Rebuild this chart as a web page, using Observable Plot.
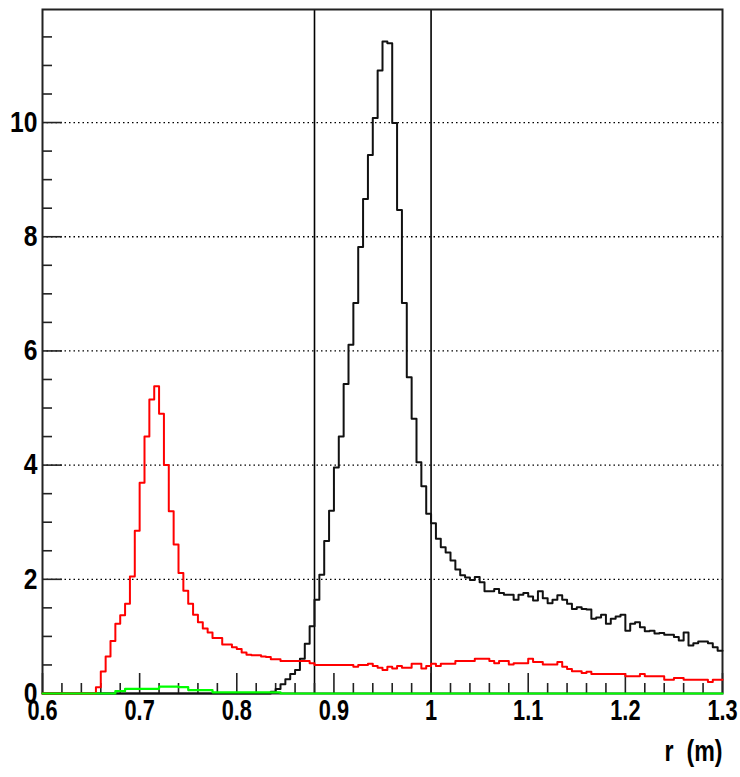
<!DOCTYPE html>
<html>
<head>
<meta charset="utf-8">
<script src="https://cdn.jsdelivr.net/npm/d3@7"></script>
<script src="https://cdn.jsdelivr.net/npm/@observablehq/plot@0.6"></script>
<style>
  body { margin: 0; background: #fff; }
  #chart svg text { font-family: "Liberation Sans", Arial, Helvetica, sans-serif; font-weight: bold; }
</style>
</head>
<body>
<div id="chart"></div>
<script>
// Histogram binning: 140 bins of width 0.005 starting at r = 0.6 m
const binStart = 0.6;
const binWidth = 0.005;

// Black histogram (bin contents, left edge 0.600 ... 1.295)
const blackValues = [
  0, 0, 0, 0, 0, 0, 0, 0, 0, 0,
  0, 0, 0, 0, 0, 0, 0, 0, 0, 0,
  0, 0, 0, 0, 0, 0, 0, 0, 0, 0,
  0, 0, 0, 0, 0, 0, 0, 0, 0, 0,
  0, 0, 0, 0, 0, 0, 0, 0.03, 0.08, 0.16,
  0.25, 0.34, 0.41, 0.61, 0.87, 1.18, 1.64, 2.08, 2.67, 3.20,
  3.96, 4.50, 5.42, 6.11, 6.84, 7.82, 8.66, 9.43, 10.08, 10.91,
  11.42, 11.39, 9.99, 8.47, 6.84, 5.54, 4.81, 4.05, 3.63, 3.15,
  2.98, 2.71, 2.56, 2.47, 2.33, 2.17, 2.07, 2.03, 1.99, 2.04,
  1.95, 1.79, 1.79, 1.83, 1.76, 1.73, 1.73, 1.64, 1.73, 1.76,
  1.70, 1.63, 1.79, 1.67, 1.58, 1.64, 1.72, 1.64, 1.57, 1.48,
  1.51, 1.48, 1.47, 1.31, 1.33, 1.38, 1.22, 1.31, 1.35, 1.38,
  1.10, 1.22, 1.25, 1.16, 1.09, 1.10, 1.05, 1.06, 1.03, 1.03,
  0.99, 0.93, 1.07, 0.84, 0.88, 0.91, 0.91, 0.88, 0.81, 0.75
];

// Red histogram
const redValues = [
  0, 0, 0, 0, 0, 0, 0, 0, 0, 0,
  0, 0.11, 0.385, 0.65, 0.92, 1.22, 1.37, 1.57, 2.05, 2.85,
  3.69, 4.50, 5.15, 5.38, 4.90, 4.00, 3.19, 2.61, 2.11, 1.80,
  1.57, 1.38, 1.25, 1.14, 1.07, 0.97, 0.97, 0.86, 0.86, 0.81,
  0.78, 0.72, 0.68, 0.67, 0.67, 0.65, 0.64, 0.60, 0.60, 0.57,
  0.57, 0.57, 0.57, 0.57, 0.57, 0.53, 0.50, 0.50, 0.50, 0.50,
  0.50, 0.50, 0.50, 0.50, 0.47, 0.50, 0.50, 0.52, 0.48, 0.45,
  0.41, 0.47, 0.44, 0.48, 0.45, 0.45, 0.52, 0.52, 0.44, 0.48,
  0.52, 0.48, 0.52, 0.52, 0.52, 0.57, 0.57, 0.57, 0.57, 0.61,
  0.61, 0.61, 0.57, 0.53, 0.57, 0.57, 0.51, 0.53, 0.53, 0.53,
  0.61, 0.55, 0.55, 0.51, 0.51, 0.51, 0.55, 0.47, 0.43, 0.39,
  0.39, 0.36, 0.38, 0.34, 0.34, 0.34, 0.34, 0.34, 0.34, 0.34,
  0.30, 0.30, 0.30, 0.34, 0.30, 0.30, 0.30, 0.30, 0.24, 0.24,
  0.27, 0.27, 0.24, 0.24, 0.24, 0.24, 0.24, 0.20, 0.24, 0.24
];

// Green histogram
const greenValues = [
  0, 0, 0, 0, 0, 0, 0, 0, 0, 0,
  0, 0, 0, 0, 0, 0.04, 0.04, 0.08, 0.08, 0.08,
  0.08, 0.08, 0.08, 0.08, 0.12, 0.12, 0.12, 0.12, 0.11, 0.11,
  0.06, 0.06, 0.06, 0.06, 0.06, 0.02, 0.02, 0.02, 0.02, 0.02,
  0.02, 0.02, 0.02, 0.02, 0.02, 0.02, 0.02, 0.02, 0.02, 0,
  0, 0, 0, 0, 0, 0, 0, 0, 0, 0,
  0, 0, 0, 0, 0, 0, 0, 0, 0, 0,
  0, 0, 0, 0, 0, 0, 0, 0, 0, 0,
  0, 0, 0, 0, 0, 0, 0, 0, 0, 0,
  0, 0, 0, 0, 0, 0, 0, 0, 0, 0,
  0, 0, 0, 0, 0, 0, 0, 0, 0, 0,
  0, 0, 0, 0, 0, 0, 0, 0, 0, 0,
  0, 0, 0, 0, 0, 0, 0, 0, 0, 0,
  0, 0, 0, 0, 0, 0, 0, 0, 0, 0
];

// Vertical cut lines
const cutLines = [0.88, 1.0];

// Axis ticks
const xMajorTicks = [0.6, 0.7, 0.8, 0.9, 1, 1.1, 1.2, 1.3];
const xMinorTicks = [0.62, 0.64, 0.66, 0.68, 0.72, 0.74, 0.76, 0.78, 0.82, 0.84, 0.86, 0.88,
  0.92, 0.94, 0.96, 0.98, 1.02, 1.04, 1.06, 1.08, 1.12, 1.14, 1.16, 1.18, 1.22, 1.24, 1.26, 1.28];
const yMajorTicks = [0, 2, 4, 6, 8, 10];
const yMinorTicks = [0.5, 1, 1.5, 2.5, 3, 3.5, 4.5, 5, 5.5, 6.5, 7, 7.5, 8.5, 9, 9.5, 10.5, 11, 11.5];
const yGrid = [2, 4, 6, 8, 10];
const xAxisTitle = "r\u00a0\u00a0(m)";

function steps(values) {
  const pts = values.map((v, i) => ({x: binStart + i * binWidth, y: v}));
  pts.push({x: binStart + values.length * binWidth, y: values[values.length - 1]});
  return pts;
}

const plainFormat = d => String(d);

const svg = Plot.plot({
  width: 740,
  height: 777,
  marginLeft: 42,
  marginRight: 18,
  marginTop: 9,
  marginBottom: 84,
  x: {domain: [0.6, 1.3], label: null},
  y: {domain: [0, 11.98], label: null},
  style: {background: "white", color: "black", overflow: "visible"},
  marks: [
    Plot.ruleY(yGrid, {stroke: "black", strokeWidth: 1.3, strokeDasharray: "1.5,3"}),
    Plot.ruleX(cutLines, {stroke: "black", strokeWidth: 1.6}),
    // inward ticks (ROOT style)
    Plot.axisY(yMajorTicks, {anchor: "left", tickSize: 20, dx: 20, fill: "none", stroke: "#222", strokeWidth: 1.6, tickFormat: () => "", label: null}),
    Plot.axisY(yMinorTicks, {anchor: "left", tickSize: 10, dx: 10, fill: "none", stroke: "#222", strokeWidth: 1.6, tickFormat: () => "", label: null}),
    Plot.axisX(xMajorTicks, {anchor: "bottom", tickSize: 20, dy: -20, fill: "none", stroke: "#222", strokeWidth: 1.6, tickFormat: () => "", label: null}),
    Plot.axisX(xMinorTicks, {anchor: "bottom", tickSize: 10, dy: -10, fill: "none", stroke: "#222", strokeWidth: 1.6, tickFormat: () => "", label: null}),
    Plot.frame({stroke: "#222", strokeWidth: 2}),
    Plot.line(steps(blackValues), {x: "x", y: "y", curve: "step-after", stroke: "#111", strokeWidth: 2}),
    Plot.line(steps(redValues), {x: "x", y: "y", curve: "step-after", stroke: "#ff0000", strokeWidth: 2}),
    Plot.line(steps(greenValues), {x: "x", y: "y", curve: "step-after", stroke: "#00ff00", strokeWidth: 2.2}),
    // tick labels
    Plot.axisY(yMajorTicks, {anchor: "left", tickSize: 0, tickPadding: 5, fontSize: 29, tickFormat: plainFormat, label: null}),
    Plot.axisX(xMajorTicks, {anchor: "bottom", tickSize: 0, tickPadding: 6, fontSize: 29, tickFormat: plainFormat, label: null}),
    Plot.text([xAxisTitle], {frameAnchor: "bottom-right", textAnchor: "end", dy: 67, fontSize: 29, fontWeight: "bold"})
  ]
});

// ROOT's Helvetica-bold labels look horizontally condensed
function condense(selector, s) {
  svg.querySelectorAll(selector).forEach(t => {
    const tr = t.getAttribute("transform");
    if (tr) {
      t.setAttribute("transform", tr + ` scale(${s},1)`);
    } else {
      const x = t.getAttribute("x") || 0;
      t.removeAttribute("x");
      t.setAttribute("transform", `translate(${x},0) scale(${s},1)`);
    }
  });
}
condense('g[aria-label="x-axis tick label"] text', 0.75);
condense('g[aria-label="y-axis tick label"] text', 0.85);
condense('g[aria-label="text"] text', 0.8);

document.getElementById("chart").appendChild(svg);
</script>
</body>
</html>
